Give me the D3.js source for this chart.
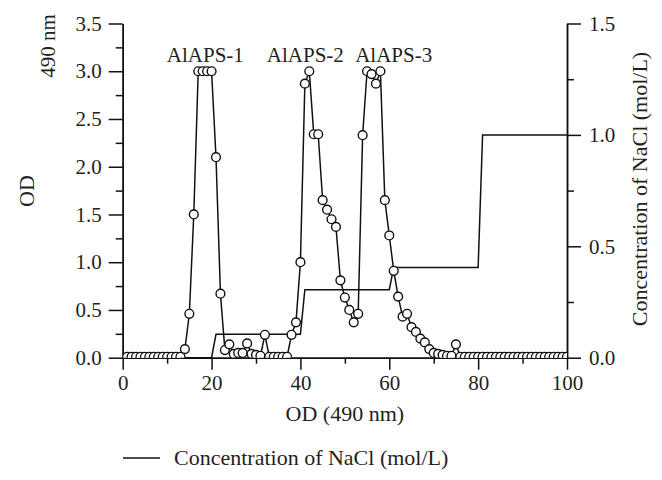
<!DOCTYPE html>
<html>
<head>
<meta charset="utf-8">
<script src="https://cdn.jsdelivr.net/npm/d3@7"></script>
<style>
  html, body { margin: 0; padding: 0; background: #fff; }
  svg { display: block; }
  text { font-family: "Liberation Serif", "DejaVu Serif", serif; fill: #231f20; }
</style>
</head>
<body>
<svg id="chart" width="662" height="480"></svg>
<script>
// ---------- data ----------
const fractions = [
  1,2,3,4,5,6,7,8,9,10,11,12,13,14,15,16,17,18,19,20,
  21,22,23,24,25,26,27,28,29,30,31,32,33,34,35,36,37,38,39,40,
  41,42,43,44,45,46,47,48,49,50,51,52,53,54,55,56,57,58,59,60,
  61,62,63,64,65,66,67,68,69,70,71,72,73,74,75,76,77,78,79,80,
  81,82,83,84,85,86,87,88,89,90,91,92,93,94,95,96,97,98,99,100
];
const od490 = [
  0.01,0.01,0.01,0.01,0.01,0.01,0.01,0.01,0.01,0.01,0.01,0.01,0.01,0.09,0.46,1.50,3.00,3.00,3.00,3.00,
  2.10,0.67,0.08,0.14,0.04,0.05,0.05,0.15,0.04,0.03,0.02,0.24,0.01,0.01,0.01,0.01,0.01,0.24,0.37,1.00,
  2.87,3.00,2.34,2.34,1.65,1.55,1.45,1.37,0.81,0.63,0.50,0.37,0.46,2.33,3.00,2.97,2.87,3.00,1.65,1.28,
  0.91,0.64,0.43,0.46,0.32,0.27,0.20,0.16,0.09,0.05,0.04,0.03,0.02,0.02,0.14,0.01,0.01,0.01,0.01,0.01,
  0.01,0.01,0.01,0.01,0.01,0.01,0.01,0.01,0.01,0.01,0.01,0.01,0.01,0.01,0.01,0.01,0.01,0.01,0.01,0.01
];
const naclX = [0, 20, 21, 40, 41, 60, 61, 80, 81, 100];
const naclY = [0, 0, 0.105, 0.105, 0.305, 0.305, 0.405, 0.405, 1.0, 1.0];

const peakLabels = ["AlAPS-1", "AlAPS-2", "AlAPS-3"];
const peakLabelX = [18.6, 41.1, 61.0];
const peakLabelY = [3.1, 3.1, 3.1];

const xTicks = [0, 20, 40, 60, 80, 100];
const xMinor = [10, 30, 50, 70, 90];
const yLeftTicks = [0, 0.5, 1.0, 1.5, 2.0, 2.5, 3.0, 3.5];
const yLeftMinor = [0.25, 0.75, 1.25, 1.75, 2.25, 2.75, 3.25];
const yRightTicks = [0, 0.5, 1.0, 1.5];
const yRightMinor = [0.25, 0.75, 1.25];

const xTitle = "OD (490 nm)";
const yLeftTitle1 = "OD";
const yLeftTitle2 = "490 nm";
const yRightTitle = "Concentration of NaCl (mol/L)";
const legendLabel = "Concentration of NaCl (mol/L)";

// ---------- layout ----------
const L = 122.7, R = 567, T = 23.5, B = 357.7;
const FS = 21, FT = 22;
const svg = d3.select("#chart");

const x = d3.scaleLinear().domain([0, 100]).range([L, R]);
const yL = d3.scaleLinear().domain([0, 3.5]).range([B, T]);
const yR = d3.scaleLinear().domain([0, 1.5]).range([B, T]);

function styleAxis(g) {
  g.selectAll("path.domain").attr("stroke", "#111").attr("stroke-width", 1.5);
  g.selectAll(".tick line").attr("stroke", "#111").attr("stroke-width", 1.5);
  g.selectAll(".tick text").style("font-family", '"Liberation Serif", serif').style("font-size", FS + "px").attr("fill", "#231f20");
}

// minor ticks
svg.append("g").attr("transform", `translate(${L},0)`)
  .call(d3.axisLeft(yL).tickValues(yLeftMinor).tickFormat("").tickSize(7).tickSizeOuter(0))
  .call(styleAxis);
svg.append("g").attr("transform", `translate(${R},0)`)
  .call(d3.axisRight(yR).tickValues(yRightMinor).tickFormat("").tickSize(7).tickSizeOuter(0))
  .call(styleAxis);
svg.append("g").attr("transform", `translate(0,${B})`)
  .call(d3.axisBottom(x).tickValues(xMinor).tickFormat("").tickSize(6).tickSizeOuter(0))
  .call(styleAxis);

// major axes
svg.append("g").attr("transform", `translate(${L},0)`)
  .call(d3.axisLeft(yL).tickValues(yLeftTicks).tickFormat(d3.format(".1f")).tickSize(14).tickPadding(7).tickSizeOuter(0))
  .call(styleAxis);
svg.append("g").attr("transform", `translate(${R},0)`)
  .call(d3.axisRight(yR).tickValues(yRightTicks).tickFormat(d3.format(".1f")).tickSize(14).tickPadding(8).tickSizeOuter(0))
  .call(styleAxis);
svg.append("g").attr("transform", `translate(0,${B})`)
  .call(d3.axisBottom(x).tickValues(xTicks).tickFormat(d3.format("d")).tickSize(12).tickPadding(5).tickSizeOuter(0))
  .call(styleAxis);

// clip
svg.append("defs").append("clipPath").attr("id", "plot")
  .append("rect").attr("x", L).attr("y", T - 20).attr("width", R - L).attr("height", B - T + 20);

// NaCl step line
const nacl = naclX.map((d, i) => [d, naclY[i]]);
svg.append("path")
  .datum(nacl)
  .attr("fill", "none").attr("stroke", "#111").attr("stroke-width", 1.5)
  .attr("d", d3.line().x(d => x(d[0])).y(d => yR(d[1])));

// OD line + markers
const od = fractions.map((f, i) => [f, od490[i]]);
const plotG = svg.append("g").attr("clip-path", "url(#plot)");
plotG.append("path")
  .datum(od)
  .attr("fill", "none").attr("stroke", "#111").attr("stroke-width", 1.5)
  .attr("d", d3.line().x(d => x(d[0])).y(d => yL(d[1])));
plotG.selectAll("circle.pt")
  .data(od).enter().append("circle")
  .attr("class", "pt")
  .attr("cx", d => x(d[0])).attr("cy", d => yL(d[1]))
  .attr("r", 4.4)
  .attr("fill", "#fff").attr("stroke", "#111").attr("stroke-width", 1.4);

// peak labels
svg.selectAll("text.peak")
  .data(peakLabels).enter().append("text")
  .attr("class", "peak")
  .attr("x", (d, i) => x(peakLabelX[i]))
  .attr("y", (d, i) => yL(peakLabelY[i]))
  .attr("text-anchor", "middle")
  .style("font-size", FS + "px")
  .text(d => d);

// axis titles
svg.append("text")
  .attr("x", (L + R) / 2).attr("y", 421)
  .attr("text-anchor", "middle").style("font-size", FT + "px")
  .text(xTitle);
svg.append("text")
  .attr("transform", `translate(34,191) rotate(-90)`)
  .attr("text-anchor", "middle").style("font-size", FT + "px")
  .text(yLeftTitle1);
svg.append("text")
  .attr("transform", `translate(55,46) rotate(-90)`)
  .attr("text-anchor", "middle").style("font-size", FS + "px")
  .text(yLeftTitle2);
svg.append("text")
  .attr("transform", `translate(647,189) rotate(-90)`)
  .attr("text-anchor", "middle").style("font-size", FT + "px")
  .text(yRightTitle);

// legend
svg.append("line")
  .attr("x1", 123).attr("x2", 160).attr("y1", 458).attr("y2", 458)
  .attr("stroke", "#111").attr("stroke-width", 1.5);
svg.append("text")
  .attr("x", 174).attr("y", 465)
  .style("font-size", FT + "px")
  .text(legendLabel);
</script>
</body>
</html>
